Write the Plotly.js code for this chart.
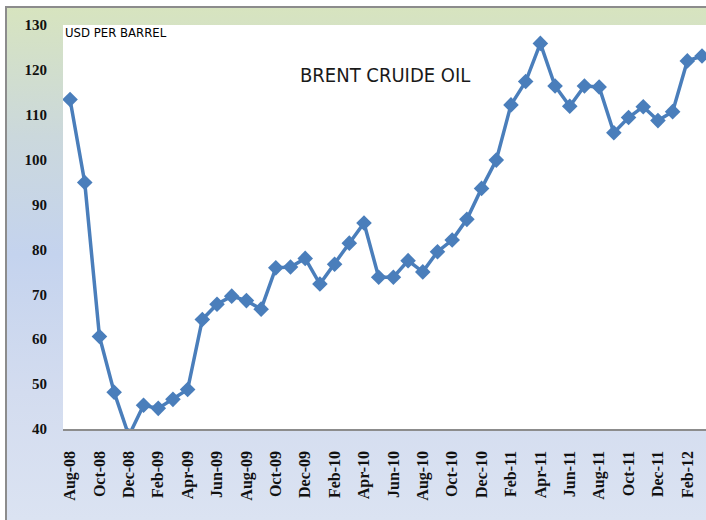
<!DOCTYPE html>
<html>
<head>
<meta charset="utf-8">
<script src="https://cdn.plot.ly/plotly-3.0.1.min.js"></script>
<style>
  html, body { margin: 0; padding: 0; background: #ffffff; }
  #frame {
    position: absolute; left: 5px; top: 6px; width: 701px; height: 514px;
    border-left: 2px solid #8c8c8c; border-top: 2px solid #8c8c8c;
    background: linear-gradient(to bottom, #d7e4bf 0%, #cbd8dc 25%, #c4d3ee 48%, #d3dcef 75%, #dbe3f2 100%);
    box-sizing: border-box;
  }
  #chart { position: absolute; left: 0; top: 0; width: 706px; height: 520px; }
</style>
</head>
<body>
<div id="frame"></div>
<div id="chart"></div>
<script>
const months = [
  "Aug-08","Sep-08","Oct-08","Nov-08","Dec-08","Jan-09","Feb-09","Mar-09","Apr-09","May-09",
  "Jun-09","Jul-09","Aug-09","Sep-09","Oct-09","Nov-09","Dec-09","Jan-10","Feb-10","Mar-10",
  "Apr-10","May-10","Jun-10","Jul-10","Aug-10","Sep-10","Oct-10","Nov-10","Dec-10","Jan-11",
  "Feb-11","Mar-11","Apr-11","May-11","Jun-11","Jul-11","Aug-11","Sep-11","Oct-11","Nov-11",
  "Dec-11","Jan-12","Feb-12","Mar-12"
];
const brentPrice = [
  113.4, 94.9, 60.6, 48.2, 38.5, 45.3, 44.6, 46.6, 48.8, 64.4,
  67.8, 69.6, 68.6, 66.7, 75.9, 76.1, 78.0, 72.3, 76.7, 81.4,
  85.9, 73.8, 73.8, 77.5, 75.0, 79.5, 82.1, 86.7, 93.6, 99.9,
  112.2, 117.4, 125.9, 116.4, 111.9, 116.4, 116.2, 106.0, 109.4, 111.8,
  108.7, 110.7, 122.0, 123.1
];
const tickLabels = [
  "Aug-08","Oct-08","Dec-08","Feb-09","Apr-09","Jun-09","Aug-09","Oct-09","Dec-09","Feb-10",
  "Apr-10","Jun-10","Aug-10","Oct-10","Dec-10","Feb-11","Apr-11","Jun-11","Aug-11","Oct-11",
  "Dec-11","Feb-12"
];
const yTicks = [40, 50, 60, 70, 80, 90, 100, 110, 120, 130];
const chartTitle = "BRENT CRUIDE OIL";
const unitLabel = "USD PER BARREL";

const trace = {
  type: "scatter",
  mode: "lines+markers",
  x: months,
  y: brentPrice,
  line: { color: "#4a7ebb", width: 3.5 },
  marker: { symbol: "diamond", size: 12, color: "#4a7ebb" },
  cliponaxis: true,
  hoverinfo: "x+y"
};

const layout = {
  width: 706, height: 520,
  margin: { l: 63, r: 0, t: 25, b: 91 },
  paper_bgcolor: "rgba(0,0,0,0)",
  plot_bgcolor: "#ffffff",
  showlegend: false,
  xaxis: {
    type: "category",
    categoryorder: "array",
    categoryarray: months,
    range: [-0.48, 43.27],
    tickmode: "array",
    tickvals: tickLabels,
    ticktext: tickLabels.map(t => "<b>" + t + "</b>"),
    tickangle: -90,
    ticks: "",
    ticklabelstandoff: 14,
    tickfont: { family: "Liberation Serif, Times New Roman, serif", size: 16, color: "#111" },
    showgrid: false,
    zeroline: false,
    showline: true,
    linecolor: "#8c8c8c",
    linewidth: 1.5
  },
  yaxis: {
    range: [40, 130],
    tickmode: "array",
    tickvals: yTicks,
    ticktext: yTicks.map(v => "<b>" + v + "</b>"),
    ticks: "",
    ticklabelstandoff: 15,
    tickfont: { family: "Liberation Serif, Times New Roman, serif", size: 15, color: "#111" },
    showgrid: false,
    zeroline: false,
    showline: false
  },
  annotations: [
    {
      text: chartTitle, xref: "paper", yref: "paper", x: 0.5, y: 0.876,
      xanchor: "center", yanchor: "middle", showarrow: false,
      font: { family: "Liberation Sans Narrow, Arial Narrow, DejaVu Sans Condensed, sans-serif", size: 20, color: "#1a1a1a" }
    },
    {
      text: unitLabel, xref: "paper", yref: "paper", x: 0.0, y: 0.982,
      xanchor: "left", yanchor: "middle", showarrow: false,
      font: { family: "Liberation Sans Narrow, Arial Narrow, DejaVu Sans Condensed, sans-serif", size: 13, color: "#000" }
    }
  ]
};

Plotly.newPlot("chart", [trace], layout, { displayModeBar: false, staticPlot: true });
</script>
</body>
</html>
